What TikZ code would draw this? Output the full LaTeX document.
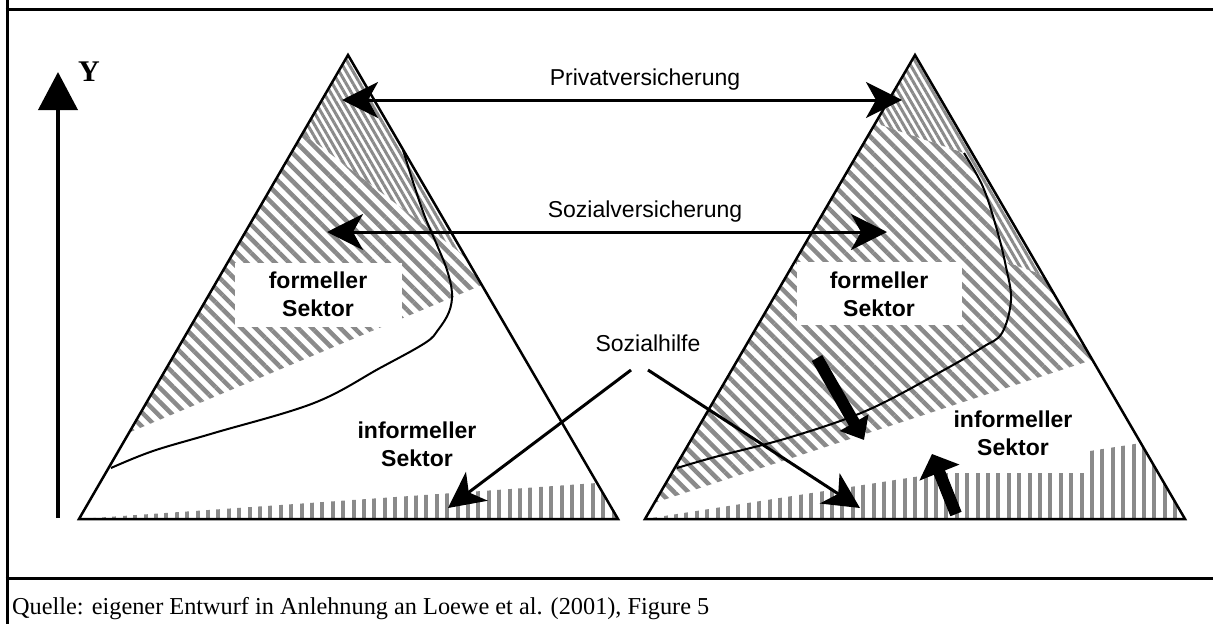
\documentclass[tikz,border=0pt]{standalone}
\usepackage{fontspec}
\setmainfont{Liberation Serif}
\setsansfont{Liberation Sans}
\usepackage{xcolor}
\definecolor{hatchGrey}{HTML}{8A8A8A}
\usepackage{tikz}
\usetikzlibrary{arrows.meta}
\tikzset{arrow/.style = {> = {Stealth[length = 36pt, width = 36pt, inset = 10pt]}}}
\tikzset{bigarrow/.style = {line width = 12pt, -{Triangle[length = 20pt, width = 32pt]}}}
\usetikzlibrary{patterns.meta}
\usetikzlibrary{positioning}

\begin{document}
\begin{tikzpicture}[x = 1pt, y = -1pt,
	lbl/.style = {font = \sffamily\fontsize{23}{28}\selectfont, align = center, inner sep = 0pt},
	boldlbl/.style = {lbl, font = \sffamily\bfseries\fontsize{23}{28}\selectfont},
	pyramid/.style = {draw, line width = 2.5pt, line join = miter},
	curve/.style = {draw, line width = 2pt},
	privhatch/.style = {pattern = {Lines[angle = -60, distance = 6pt, line width = 3pt]}, pattern color = hatchGrey},
	sozhatch/.style = {pattern = {Lines[angle = -45, distance = 10pt, line width = 4.5pt]}, pattern color = hatchGrey},
	infhatch/.style = {pattern = {Lines[angle = 90, distance = 10.4pt, line width = 4pt]}, pattern color = hatchGrey}]
	\useasboundingbox (0, 0) rectangle (1213, 624);

	%% Frame
	\draw[line width = 3pt] (7, 0) -- (7, 624);
	\draw[line width = 3pt] (5.5, 9) -- (1213, 9);
	\draw[line width = 3pt] (5.5, 578) -- (1213, 578);

	%% Corners of the two pyramids
	\coordinate (apexL) at (348, 55);
	\coordinate (leftL) at (79, 519);
	\coordinate (rightL) at (618, 519);
	\coordinate (apexR) at (915, 55);
	\coordinate (leftR) at (645, 519);
	\coordinate (rightR) at (1185, 519);

	%% Hatched areas...
	% ... left pyramid
	\fill[privhatch] (apexL) -- (303, 133) -- (466, 257) -- cycle;
	\fill[sozhatch] (303, 133) -- (466, 257) -- (482, 285) -- (128, 433) -- cycle;
	\fill[infhatch] (leftL) -- (597, 483) -- (rightL) -- cycle;
	\fill[white] (235, 263) rectangle (402, 327);

	% ... right pyramid
	\fill[privhatch] (apexR) -- (875, 123) -- (964, 153) -- (983, 187) -- (997, 230) -- (1006, 262) -- (1043, 275) -- cycle;
	\fill[sozhatch] (875, 123) -- (964, 153) -- (983, 187) -- (997, 230) -- (1006, 262) -- (1043, 275) -- (1092, 360) -- (654, 503) -- cycle;
	\fill[infhatch] (leftR) -- (940, 473) -- (1090, 473) -- (1090, 451) -- (1141, 443) -- (rightR) -- cycle;
	\fill[white] (797, 262) rectangle (962, 325);

	%% Boundary curves
	\draw[curve] plot[smooth, tension = 0.6] coordinates {(403, 150) (414, 185) (425, 217) (437, 245) (447, 270) (452, 293) (449, 312) (438, 330) (425, 343) (380, 368) (314, 403) (214, 433) (153, 451) (111, 468)};
	\draw[curve] plot[smooth, tension = 0.6] coordinates {(964, 153) (983, 187) (997, 230) (1006, 267) (1011, 300) (1002, 333) (983, 347) (944, 370) (868, 410) (791, 437) (715, 457) (677, 468)};

	%% Pyramids
	\draw[pyramid] (apexL) -- (leftL) -- (rightL) -- cycle;
	\draw[pyramid] (apexR) -- (leftR) -- (rightR) -- cycle;

	%% Y axis
	\coordinate (ybot) at (58, 518);
	\coordinate (ytop) at (58, 72);
	\draw[line width = 4pt, -{Triangle[length = 38pt, width = 39pt]}] (ybot) -- (ytop);
	\node[font = \bfseries\fontsize{30}{30}\selectfont, inner sep = 0pt] (ylabel) at (89, 72) {Y};

	%% Labels
	\node[lbl] (privlabel) at (645, 80) {Privatversicherung};
	\node[lbl] (sozlabel) at (645, 212) {Sozialversicherung};
	\node[lbl] (hilfelabel) at (648, 343) {Sozialhilfe};

	\node[boldlbl] (formL) at (318, 294) {formeller\\Sektor};
	\node[boldlbl] (formR) at (879, 294) {formeller\\Sektor};
	\node[boldlbl] (informL) at (417, 444) {informeller\\Sektor};
	\node[boldlbl] (informR) at (1013, 433) {informeller\\Sektor};

	\node[font = \fontsize{24.3}{28}\selectfont, inner sep = 0pt, anchor = west] (source) at (12, 609) {Quelle: eigener Entwurf in Anlehnung an Loewe et al. (2001), Figure 5};

	%% Arrows...
	% ... between the pyramids
	\coordinate (privL) at (342, 100);
	\coordinate (privR) at (902, 100);
	\draw[<->, arrow, line width = 3pt] (privL) -- (privR);

	\coordinate (sozL) at (327, 232);
	\coordinate (sozR) at (887, 232);
	\draw[<->, arrow, line width = 3pt] (sozL) -- (sozR);

	% ... from Sozialhilfe
	\coordinate (hilfeA) at (631, 370);
	\coordinate (hilfeB) at (648, 370);
	\coordinate (hilfeL) at (448, 508);
	\coordinate (hilfeR) at (860, 508);
	\draw[->, arrow, line width = 3pt] (hilfeA) -- (hilfeL);
	\draw[->, arrow, line width = 3pt] (hilfeB) -- (hilfeR);

	% ... shifts in the right pyramid
	\coordinate (downtail) at (817, 358);
	\coordinate (downtip) at (864, 440);
	\coordinate (uptail) at (956, 514);
	\coordinate (uptip) at (932, 454);
	\draw[bigarrow] (downtail) -- (downtip);
	\draw[bigarrow, -{Triangle[length = 20pt, width = 42pt]}] (uptail) -- (uptip);
\end{tikzpicture}
\end{document}
